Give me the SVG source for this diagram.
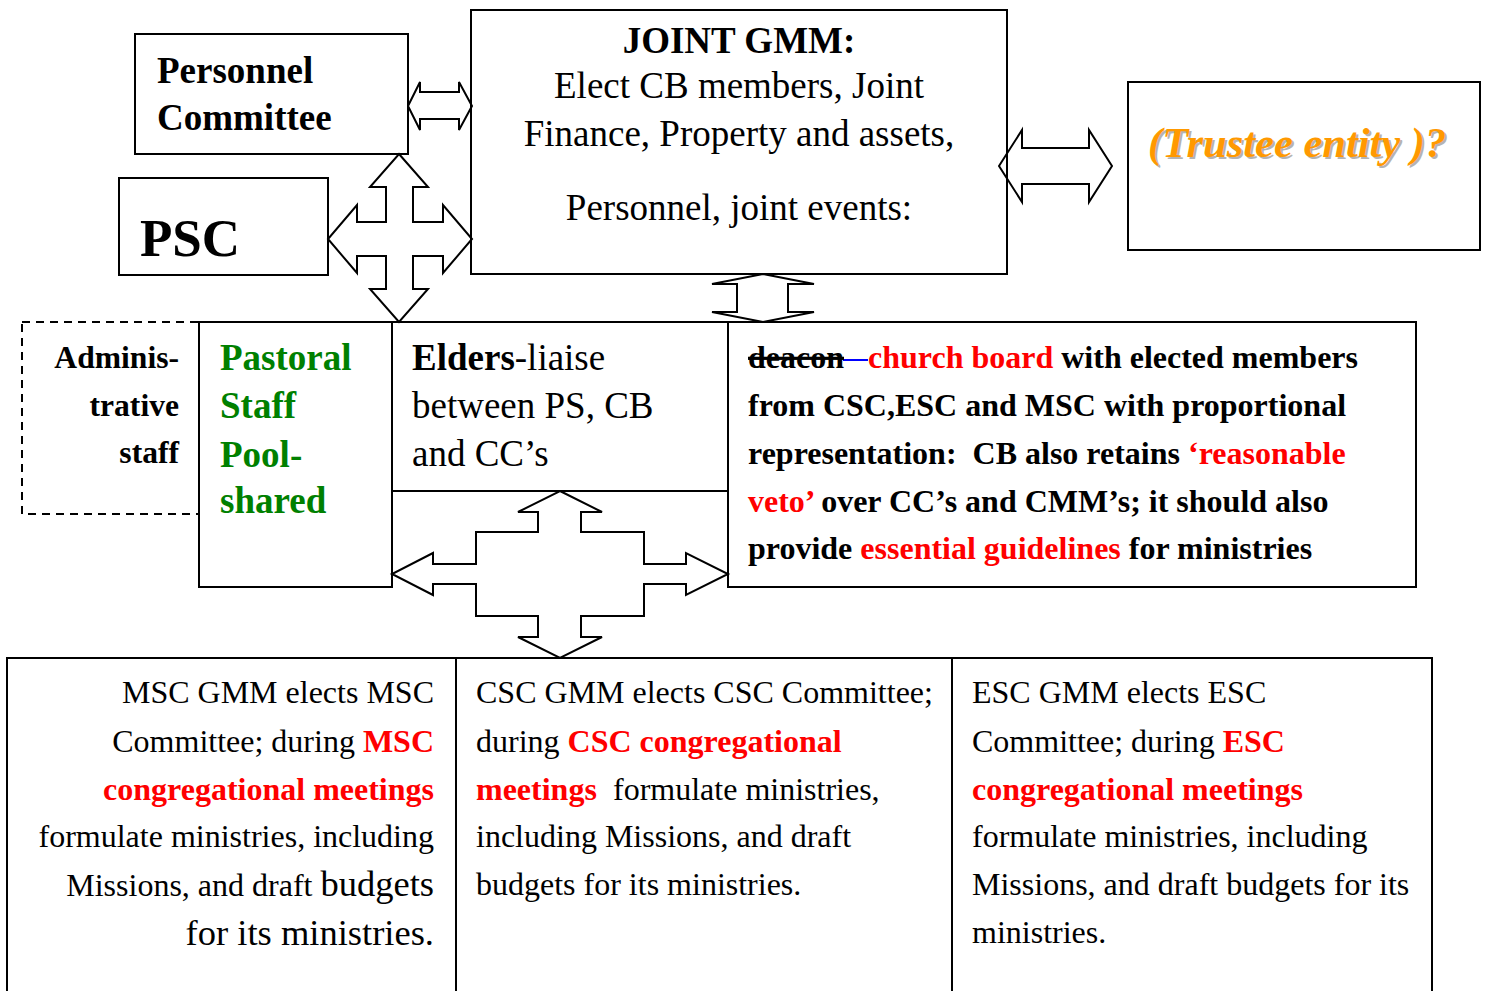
<svg xmlns="http://www.w3.org/2000/svg" width="1486" height="991" viewBox="0 0 1486 991">
<style>
.box{fill:none;stroke:#000;stroke-width:2}
.dash{fill:none;stroke:#000;stroke-width:2;stroke-dasharray:8,6}
.arr{fill:none;stroke:#000;stroke-width:2;stroke-linejoin:miter}
text{font-family:"Liberation Serif","Times New Roman",serif;fill:#000}
.b{font-weight:bold}
.red{fill:#ff0000;font-weight:bold}
.grn{fill:#008000;font-weight:bold}
.s37{font-size:37px}
.s32{font-size:32px}
.s31{font-size:31.6px}
.sd{font-size:32px}
</style>
<rect width="1486" height="991" fill="#fff"/>

<g id="personnel-committee">
<rect class="box" x="135" y="34" width="273" height="120"/>
<text class="b s37" x="157" y="83">Personnel</text>
<text class="b s37" x="157" y="130">Committee</text>
</g>

<g id="psc">
<rect class="box" x="119" y="178" width="209" height="97"/>
<text class="b" font-size="53" x="140" y="256">PSC</text>
</g>

<g id="joint-gmm">
<rect class="box" x="471" y="10" width="536" height="264"/>
<text class="b s37" x="739" y="53" text-anchor="middle">JOINT GMM:</text>
<text class="s37" x="739" y="98" text-anchor="middle">Elect CB members, Joint</text>
<text class="s37" x="739" y="146" text-anchor="middle">Finance, Property and assets,</text>
<text class="s37" x="739" y="220" text-anchor="middle">Personnel, joint events:</text>
</g>

<g id="trustee">
<rect class="box" x="1128" y="82" width="352" height="168"/>
<text font-size="42.5" font-weight="bold" font-style="italic" x="1150" y="159" style="fill:#b4b4b4">(Trustee entity )?</text>
<text font-size="42.5" font-weight="bold" font-style="italic" x="1148" y="157" style="fill:#ff9900">(Trustee entity )?</text>
</g>

<g id="admin-staff">
<rect class="dash" x="22" y="322" width="177" height="192"/>
<text class="b s31" x="179" y="368" text-anchor="end">Adminis-</text>
<text class="b s31" x="179" y="416" text-anchor="end">trative</text>
<text class="b s31" x="179" y="463" text-anchor="end">staff</text>
</g>

<g id="pastoral-staff">
<rect class="box" x="199" y="322" width="193" height="265"/>
<text class="grn s37" x="220" y="370">Pastoral</text>
<text class="grn s37" x="220" y="418">Staff</text>
<text class="grn s37" x="220" y="467">Pool-</text>
<text class="grn s37" x="220" y="513">shared</text>
</g>

<g id="elders">
<rect class="box" x="392" y="322" width="336" height="169"/>
<text class="s37" x="412" y="370"><tspan class="b">Elders</tspan>-liaise</text>
<text class="s37" x="412" y="418">between PS, CB</text>
<text class="s37" x="412" y="466">and CC’s</text>
</g>

<g id="church-board">
<rect class="box" x="728" y="322" width="688" height="265"/>
<line x1="843" y1="360" x2="868" y2="360" stroke="#0000ff" stroke-width="2"/>
<text class="b sd" x="748" y="368"><tspan text-decoration="line-through">deacon</tspan><tspan x="868" class="red">church board</tspan> with elected members</text>
<text class="b sd" x="748" y="416">from CSC,ESC and MSC with proportional</text>
<text class="b sd" x="748" y="464">representation:&#160; CB also retains <tspan class="red">‘reasonable</tspan></text>
<text class="b sd" x="748" y="512"><tspan class="red">veto’</tspan> over CC’s and CMM’s; it should also</text>
<text class="b sd" x="748" y="559">provide <tspan class="red">essential guidelines</tspan> for ministries</text>
</g>

<g id="msc">
<rect class="box" x="7" y="658" width="449" height="345"/>
<text class="s32" x="434" y="703" text-anchor="end">MSC GMM elects MSC</text>
<text class="s32" x="434" y="752" text-anchor="end">Committee; during <tspan class="red">MSC</tspan></text>
<text class="s32 red" x="434" y="800" text-anchor="end">congregational meetings</text>
<text class="s32" x="434" y="847" text-anchor="end">formulate ministries, including</text>
<text class="s32" x="434" y="896" text-anchor="end">Missions, and draft <tspan font-size="36.5">budgets</tspan></text>
<text font-size="36.5" x="434" y="945" text-anchor="end">for its ministries.</text>
</g>

<g id="csc">
<rect class="box" x="456" y="658" width="496" height="345"/>
<text class="s32" x="476" y="703">CSC GMM elects CSC Committee;</text>
<text class="s32" x="476" y="752">during <tspan class="red">CSC congregational</tspan></text>
<text class="s32" x="476" y="800"><tspan class="red">meetings</tspan><tspan x="613">formulate ministries,</tspan></text>
<text class="s32" x="476" y="847">including Missions, and draft</text>
<text class="s32" x="476" y="895">budgets for its ministries.</text>
</g>

<g id="esc">
<rect class="box" x="952" y="658" width="480" height="345"/>
<text class="s32" x="972" y="703">ESC GMM elects ESC</text>
<text class="s32" x="972" y="752">Committee; during <tspan class="red">ESC</tspan></text>
<text class="s32 red" x="972" y="800">congregational meetings</text>
<text class="s32" x="972" y="847">formulate ministries, including</text>
<text class="s32" x="972" y="895">Missions, and draft budgets for its</text>
<text class="s32" x="972" y="943">ministries.</text>
</g>

<g id="connectors">
<path class="arr" d="M408,106 L420,82 L420,92 L459,92 L459,82 L472,106 L459,130 L459,119 L420,119 L420,130 Z"/>
<path class="arr" d="M399,154 L428,187 L413,187 L413,222 L443,222 L443,205 L472,239 L443,273 L443,256 L413,256 L413,289 L428,289 L399,322 L370,289 L386,289 L386,256 L357,256 L357,273 L328,239 L357,205 L357,222 L386,222 L386,187 L370,187 Z"/>
<path class="arr" d="M999,166 L1022,130 L1022,148 L1089,148 L1089,130 L1112,166 L1089,202 L1089,184 L1022,184 L1022,202 Z"/>
<path class="arr" d="M763,274 L814,284 L788,284 L788,312 L814,312 L763,322 L712,312 L737,312 L737,284 L712,284 Z"/>
<path class="arr" d="M560,491 L602,512 L581,512 L581,532 L644,532 L644,564 L686,564 L686,553 L728,574 L686,595 L686,584 L644,584 L644,616 L581,616 L581,637 L602,637 L560,658 L518,637 L538,637 L538,616 L476,616 L476,584 L433,584 L433,595 L392,574 L433,553 L433,564 L476,564 L476,532 L538,532 L538,512 L518,512 Z"/>
</g>
</svg>
